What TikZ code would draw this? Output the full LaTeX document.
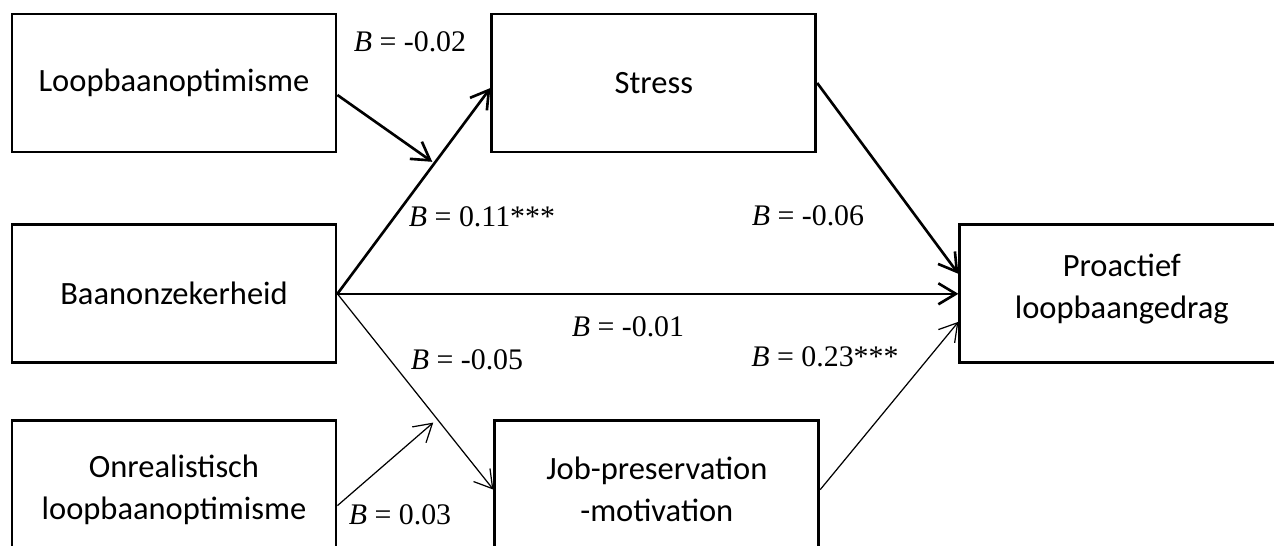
\documentclass[tikz,border=0pt]{standalone}
\usepackage{fontspec}
\setmainfont{Liberation Serif}
\newfontfamily\boxfont{Carlito}
\usetikzlibrary{positioning, arrows.meta}

\begin{document}
\begin{tikzpicture}[
    every node/.style={font=\fontsize{17}{20}\selectfont},
    box/.style={draw, line width=1.6pt, minimum width=6.48cm, minimum height=2.76cm, align=center, font=\boxfont\fontsize{18.5}{24}\selectfont},
    arrow/.style={-{Straight Barb[length=3.5mm, width=4.2mm]}, line width=1.5pt},
    thinarrow/.style={arrow, line width=0.7pt}
  ]
  \useasboundingbox (0,0) rectangle (25.48,-10.9);

  % Predictors (left)
  \node[box] (lo) at (3.48,-1.66) {Loopbaanoptimisme};
  \node[box, below=1.4cm of lo] (bz) {Baanonzekerheid};
  \node[box, below=1.1cm of bz] (on) {Onrealistisch\\loopbaanoptimisme};

  % Mediators and outcome
  \node[box, right=3.06cm of lo] (st) {Stress};
  \node[box, right=3.12cm of on] (jp) {Job-preservation\\-motivation};
  \node[box, right=12.42cm of bz] (pr) {Proactief\\loopbaangedrag\\[-15pt]};

  % Paths
  \draw[arrow] (bz.east) -- coordinate[pos=0.634] (mst) ([yshift=-1mm]st.west);
  \draw[arrow] (bz.east) -- (pr.west);
  \draw[arrow] (st.east) -- ([yshift=4mm]pr.west);
  \draw[thinarrow] (bz.east) -- coordinate[pos=0.64] (mjp) (jp.west);
  \draw[thinarrow] (jp.east) -- ([yshift=-5.6mm]pr.west);

  % Moderators
  \draw[arrow, shorten >=1.5pt] ([yshift=-2.4mm]lo.east) -- (mst);
  \draw[thinarrow, shorten >=3pt] ([yshift=-3.2mm]on.east) -- (mjp);

  % Coefficients
  \node (blo) at (8.2,-0.84)  {\textit{B} = -0.02};
  \node (bst) at (9.64,-4.34) {\textit{B} = 0.11***};
  \node (spr) at (16.16,-4.32) {\textit{B} = -0.06};
  \node (bpr) at (12.56,-6.54) {\textit{B} = -0.01};
  \node (bjp) at (9.34,-7.2)  {\textit{B} = -0.05};
  \node (jpr) at (16.5,-7.14) {\textit{B} = 0.23***};
  \node (bon) at (8.0,-10.3)  {\textit{B} = 0.03};
\end{tikzpicture}
\end{document}
